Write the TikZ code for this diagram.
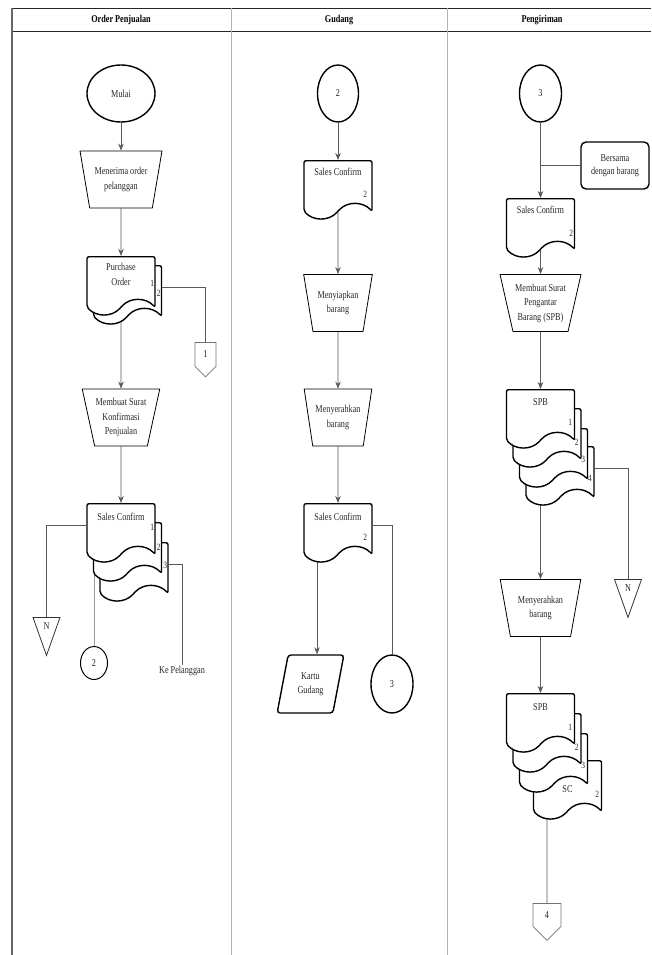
\documentclass[tikz,border=0pt]{standalone}
\usepackage{fontspec}
\setmainfont{Liberation Serif}[FakeStretch=0.78]
\usetikzlibrary{shapes.geometric,shapes.symbols,arrows.meta,backgrounds}

\begin{document}
\begin{tikzpicture}[x=1pt,y=-1pt,>={Stealth[length=7pt,width=5.5pt]},
  every node/.style={font=\fontsize{10.5}{14.5}\selectfont,text=black!85,align=center,inner sep=1pt},
  head/.style={font=\fontsize{10.5}{12}\selectfont\bfseries,text=black},
  line/.style={draw=black!65,line width=.7pt},
  arr/.style={line,->},
  term/.style={ellipse,draw=black,line width=1.4pt,minimum width=#1,minimum height=57pt},
  proc/.style={trapezium,shape border rotate=180,trapezium angle=73,trapezium stretches=true,draw=black,line width=.8pt,minimum width=#1,minimum height=57pt},
  doc/.style={tape,tape bend top=none,tape bend bottom=in and out,tape bend height=15pt,draw=black,fill=white,line width=1.4pt,rounded corners=2pt,minimum width=68pt,minimum height=58pt,anchor=north},
  pgno/.style={font=\fontsize{9.5}{11}\selectfont},
  offpage/.style={signal,signal to=south,draw=black!55,line width=.8pt,signal pointer angle=90,anchor=north,minimum width=#1},
  endtri/.style={isosceles triangle,isosceles triangle stretches,shape border rotate=270,draw=black!80,line width=.8pt,minimum width=27pt,minimum height=38pt,anchor=north}]
\useasboundingbox (0,0) rectangle (651,955);
\draw[black!85,line width=.9pt] (12,8) -- (651,8) (12,31) -- (651,31);
\draw[black!60,line width=1.3pt] (12,8) -- (12,955);
\draw[black!30,line width=.8pt] (231,8) -- (231,955) (447,8) -- (447,955);
\node[head] (hOrder) at (121,20) {Order Penjualan};
\node[head] (hGudang) at (339,20) {Gudang};
\node[head] (hKirim) at (542,20) {Pengiriman};

\node[term=68pt] (mulai) at (121,93.5) {Mulai};
\node[proc=82pt,trapezium angle=72] (terima) at (121,179.5) {Menerima order\\pelanggan};
\node[doc] (po2) at (127.5,265) {};
\node[doc] (po1) at (121,256) {};
\node (poT) at ([yshift=-18.5pt]po1.north) {Purchase\\Order};
\node[pgno] (po1n) at ([xshift=-3.5pt,yshift=-27pt]po1.north east) {1};
\node[pgno] (po2n) at ([xshift=-3.5pt,yshift=-28pt]po2.north east) {2};
\node[offpage=21pt,minimum height=27pt] (off1) at (205.5,342) {1};
\node[proc=68pt] (konfirm) at (121,417.5) {Membuat Surat\\Konfirmasi\\Penjualan};
\foreach \n/\x/\y in {3/134/542,2/127.5/522,1/121/503}
  \node[doc] (sc\n) at (\x,\y) {};
\node (scT) at ([yshift=-14pt]sc1.north) {Sales Confirm};
\foreach \n/\d in {1/24,2/25,3/23}
  \node[pgno] (scn\n) at ([xshift=-3.5pt,yshift=-\d]sc\n.north east) {\n};
\node[endtri] (nA) at (46.5,617) {N};
\node[term=27pt,minimum height=33pt,line width=1pt] (c2) at (94,663) {2};
\node (kepel) at (182,671) {Ke Pelanggan};

\node[term=41pt] (c2top) at (338,93.5) {2};
\node[doc] (gsc1) at (338,160) {};
\node (gsc1T) at ([yshift=-12pt]gsc1.north) {Sales Confirm};
\node[pgno] (gsc1n) at ([xshift=-7.5pt,yshift=-34pt]gsc1.north east) {2};
\node[proc=69pt] (siap) at (338,303) {Menyiapkan\\barang};
\node[proc=68pt] (serah) at (338,417.5) {Menyerahkan\\barang};
\node[doc] (gsc2) at (338,503) {};
\node (gsc2T) at ([yshift=-14pt]gsc2.north) {Sales Confirm};
\node[pgno] (gsc2n) at ([xshift=-7.5pt,yshift=-34pt]gsc2.north east) {2};
\node[trapezium,trapezium left angle=75,trapezium right angle=105,trapezium stretches=true,draw,line width=1.4pt,rounded corners=3pt,minimum width=67pt,minimum height=58pt] (kartu) at (310.5,684) {Kartu\\Gudang};
\node[term=42pt,minimum height=58pt] (c3b) at (392,684) {3};
\coordinate (kg) at (317,0);

\node[term=42pt] (c3top) at (540.5,93.5) {3};
\node[draw,line width=1.4pt,rounded corners=5pt,minimum width=68pt,minimum height=47pt,font=\fontsize{10.5}{13}\selectfont] (bersama) at (615,165.5) {Bersama\\dengan barang};
\node[doc] (psc) at (540.5,198) {};
\node (pscT) at ([yshift=-12pt]psc.north) {Sales Confirm};
\node[pgno] (pscn) at ([xshift=-4pt,yshift=-35pt]psc.north east) {2};
\node[proc=81pt] (buatspb) at (540.5,303) {Membuat Surat\\Pengantar\\Barang (SPB)};
\foreach \n/\x/\y in {4/560/446,3/553.5/428,2/547/408,1/540.5/389}
  \node[doc] (spb\n) at (\x,\y) {};
\node (spbT) at ([yshift=-13pt]spb1.north) {SPB};
\foreach \n/\d in {1/33,2/34,3/31,4/32}
  \node[pgno] (spbn\n) at ([xshift=-5pt,yshift=-\d]spb\n.north east) {\n};
\node[endtri] (nB) at (628,579) {N};
\node[proc=81pt] (serahb) at (540.5,608) {Menyerahkan\\barang};
\node[doc] (scp) at (567.5,760) {};
\foreach \n/\x/\y in {3/553.5/733,2/547/713,1/540.5/693}
  \node[doc] (spbb\n) at (\x,\y) {};
\node (spbbT) at ([yshift=-14pt]spbb1.north) {SPB};
\foreach \n/\d in {1/34,2/34,3/32}
  \node[pgno] (spbbn\n) at ([xshift=-5pt,yshift=-\d]spbb\n.north east) {\n};
\node (scpT) at ([yshift=-29pt]scp.north) {SC};
\node[pgno] (scpn) at ([xshift=-5pt,yshift=-34pt]scp.north east) {2};
\node[offpage=28pt,minimum height=26pt] (off4) at (547,903) {4};

\begin{scope}[on background layer]
\draw[arr] (mulai) -- (terima);
\draw[arr] (terima) -- (po1);
\draw[line] (po2.east) -| (off1);
\draw[arr] (po1) -- (konfirm);
\draw[arr] (konfirm) -- (sc1);
\draw[line] (sc1.west) -| (nA);
\draw[line,draw=black!40] (c2 |- sc2.center) -- (c2);
\draw[line] (sc3.east) -| (kepel);
\draw[arr] (c2top) -- (gsc1);
\draw[arr] (gsc1) -- (siap);
\draw[arr] (siap) -- (serah);
\draw[arr] (serah) -- (gsc2);
\draw[line] (gsc2.east) -| (c3b);
\draw[arr] (kg |- gsc2.center) -- (kg |- kartu.north);
\draw[arr] (c3top) -- (psc);
\draw[line] (bersama) -- (bersama -| c3top);
\draw[arr] (psc) -- (buatspb);
\draw[arr] (buatspb) -- (spb1);
\draw[line] (spb4.east) -| (nB);
\draw[arr] (serahb |- spb4.center) -- (serahb);
\draw[arr] (serahb) -- (spbb1);
\draw[line] (off4 |- scp.center) -- (off4);
\end{scope}
\end{tikzpicture}
\end{document}
